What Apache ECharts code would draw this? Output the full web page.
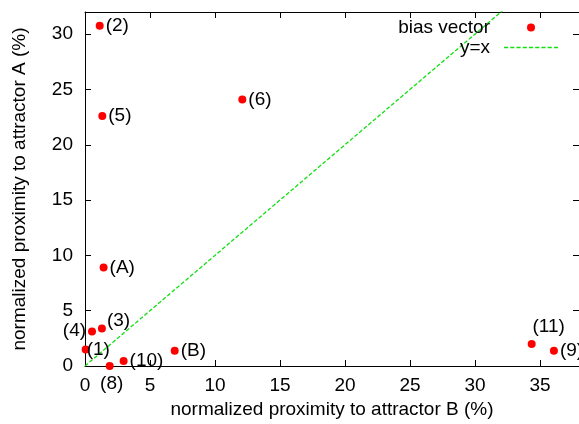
<!DOCTYPE html>
<html>
<head>
<meta charset="utf-8">
<script src="https://cdn.jsdelivr.net/npm/echarts@6/dist/echarts.min.js"></script>
<style>
html, body { margin: 0; padding: 0; background: #fff; }
#chart { width: 579px; height: 424px; }
</style>
</head>
<body>
<div id="chart"></div>
<script>
// labels of the points
var names = ['(1)', '(2)', '(3)', '(4)', '(5)', '(6)', '(8)', '(9)', '(10)', '(11)', '(A)', '(B)'];
// normalized proximity to attractor B (%)
var proxB = [0.05, 1.13, 1.3, 0.54, 1.33, 12.1, 1.9, 36.07, 2.97, 34.36, 1.43, 6.9];
// normalized proximity to attractor A (%)
var proxA = [1.5, 30.76, 3.39, 3.12, 22.6, 24.1, 0.0, 1.38, 0.45, 2.0, 8.9, 1.38];
// y=x reference line
var diagX = [0, 38];
var diagY = [0, 38];
var xTicks = [0, 5, 10, 15, 20, 25, 30, 35];
var yTicks = [0, 5, 10, 15, 20, 25, 30];

var font = 'Liberation Sans, Arial, sans-serif';
var fs = 19;
var green = '#11e011';

// where a label sits when it is not simply to the right
var labelPlace = {
    '(1)': {position: 'right', distance: 1, offset: [-4, 0]},
    '(3)': {position: 'right', distance: 1, offset: [0, -8]},
    '(4)': {position: 'left', distance: 2, offset: [0, -1]},
    '(8)': {position: 'bottom', distance: 4, offset: [2, 0]},
    '(11)': {position: 'top', distance: 4, offset: [17, 0]}
};

var points = [];
for (var i = 0; i < names.length; i++) {
    var item = {name: names[i], value: [proxB[i], proxA[i]]};
    if (labelPlace[names[i]]) item.label = labelPlace[names[i]];
    points.push(item);
}
var diag = [];
for (var j = 0; j < diagX.length; j++) diag.push([diagX[j], diagY[j]]);

// dashed sample for the legend, gnuplot style
var dashPath = 'path://';
for (var d = 0; d < 52; d += 6) dashPath += 'M' + d + ',0h4v1.6h-4z';

function axisBase(ticks, max) {
    return {
        type: 'value', min: 0, max: max, interval: 5,
        axisLine: {show: true, onZero: false, lineStyle: {color: '#000', width: 1}},
        axisTick: {show: true, inside: true, length: 6, lineStyle: {color: '#000'}},
        splitLine: {show: false},
        axisLabel: {
            show: true, color: '#000', fontSize: fs, fontFamily: font,
            showMaxLabel: false,
            formatter: function (v) { return ticks.indexOf(v) >= 0 ? String(v) : ''; }
        }
    };
}

var chart = echarts.init(document.getElementById('chart'));

var xMain = axisBase(xTicks, 38);
xMain.position = 'bottom';
xMain.axisLabel.margin = 10;
xMain.name = 'normalized proximity to attractor B (%)';
xMain.nameLocation = 'middle';
xMain.nameGap = 34;
xMain.nameTextStyle = {color: '#000', fontSize: fs, fontFamily: font};

var xTop = axisBase(xTicks, 38);
xTop.position = 'top';
xTop.axisLabel.show = false;

var yMain = axisBase(yTicks, 32);
yMain.position = 'left';
yMain.axisLabel.margin = 12;
yMain.name = 'normalized proximity to attractor A (%)';
yMain.nameLocation = 'middle';
yMain.nameGap = 56;
yMain.nameTextStyle = {color: '#000', fontSize: fs, fontFamily: font};

var yRight = axisBase(yTicks, 32);
yRight.position = 'right';
yRight.axisLabel.show = false;

chart.setOption({
    animation: false,
    grid: {left: 85, top: 12, right: -3, bottom: 57, containLabel: false},
    legend: {
        orient: 'vertical', align: 'right',
        right: 16, top: 13,
        itemWidth: 54, itemHeight: 8, itemGap: 1,
        textStyle: {color: '#000', fontSize: fs, fontFamily: font, padding: [0, 9, 0, 0]},
        data: [
            {name: 'bias vector'},
            {name: 'y=x', icon: dashPath, itemStyle: {color: green, borderWidth: 0}}
        ]
    },
    xAxis: [xMain, xTop],
    yAxis: [yMain, yRight],
    series: [
        {
            name: 'bias vector',
            type: 'scatter',
            symbol: 'circle',
            symbolSize: 8,
            itemStyle: {color: '#ff0000', opacity: 1},
            label: {
                show: true, position: 'right', distance: 2, opacity: 1,
                color: '#000', fontSize: fs, fontFamily: font,
                formatter: function (p) { return p.name; }
            },
            data: points,
            z: 3
        },
        {
            name: 'y=x',
            type: 'line',
            symbol: 'none',
            showSymbol: false,
            lineStyle: {color: green, width: 1.3, type: [4, 2]},
            itemStyle: {color: green},
            data: diag,
            z: 2
        }
    ]
});
</script>
</body>
</html>
